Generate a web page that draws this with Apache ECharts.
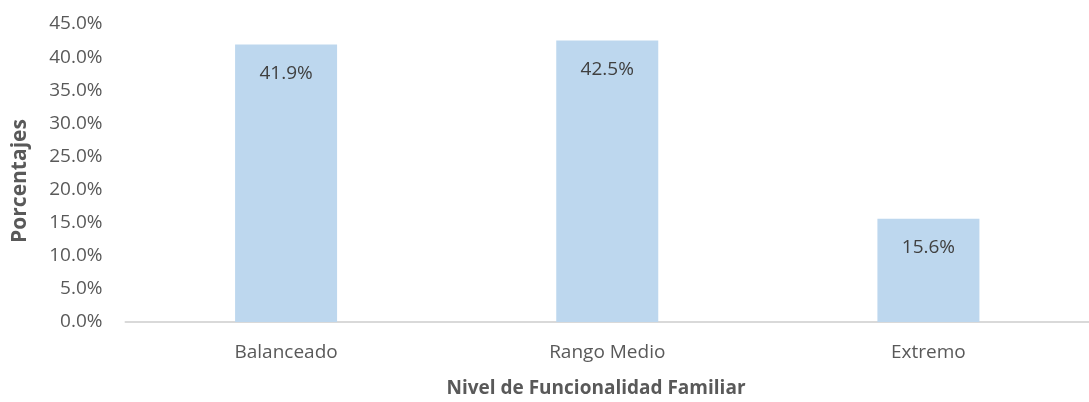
<!DOCTYPE html>
<html>
<head>
<meta charset="utf-8">
<script src="https://cdn.jsdelivr.net/npm/echarts@6/dist/echarts.min.js"></script>
<style>
html,body{margin:0;padding:0;background:#fff;}
#chart{width:1089px;height:402px;}
</style>
</head>
<body>
<div id="chart"></div>
<script>
const categories = ['Balanceado', 'Rango Medio', 'Extremo'];
const values = [41.9, 42.5, 15.6];
const yTitle = 'Porcentajes';
const xTitle = 'Nivel de Funcionalidad Familiar';

const FONT = '"Open Sans", sans-serif';
const chart = echarts.init(document.getElementById('chart'), null, {renderer: 'canvas'});
chart.setOption({
  animation: false,
  backgroundColor: '#ffffff',
  grid: {left: 125.5, top: 24, width: 975, bottom: 80, containLabel: false},
  xAxis: {
    type: 'category',
    data: categories,
    axisLine: {lineStyle: {color: '#D9D9D9', width: 2}},
    axisTick: {show: false},
    axisLabel: {color: '#595959', fontFamily: FONT, fontSize: 19, margin: 21}
  },
  yAxis: {
    type: 'value',
    min: 0, max: 45, interval: 5,
    axisLine: {show: false},
    axisTick: {show: false},
    splitLine: {show: false},
    axisLabel: {color: '#595959', fontFamily: FONT, fontSize: 19, margin: 23,
      formatter: v => v.toFixed(1) + '%'}
  },
  series: [{
    type: 'bar',
    data: values,
    barWidth: 102,
    itemStyle: {color: '#BDD7EE'},
    label: {
      show: true, position: 'insideTop', distance: 19,
      color: '#404040', fontFamily: FONT, fontSize: 19, lineHeight: 20,
      formatter: p => p.value.toFixed(1) + '%'
    }
  }],
  graphic: [
    {type: 'text', x: 596, y: 389, style: {text: xTitle, fill: '#595959', font: 'bold 19px ' + FONT, textAlign: 'center', textVerticalAlign: 'middle'}},
    {type: 'text', x: 20, y: 181, rotation: Math.PI/2, style: {text: yTitle, fill: '#595959', font: 'bold 21px ' + FONT, textAlign: 'center', textVerticalAlign: 'middle'}}
  ]
});
</script>
</body>
</html>
